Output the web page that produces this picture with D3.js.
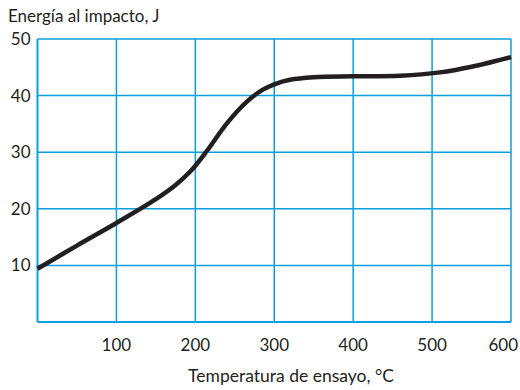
<!DOCTYPE html>
<html>
<head>
<meta charset="utf-8">
<script src="https://cdn.jsdelivr.net/npm/d3@7"></script>
<style>
  body { margin: 0; background: #fff; }
  svg text { font-family: Lato, "Open Sans", sans-serif; fill: #231f20; }
</style>
</head>
<body>
<div id="chart"></div>
<script>
// datos
const temps = [0, 50, 100, 150, 175, 195, 215, 240, 265, 285, 300, 320, 350, 400, 460, 510, 550, 600];
const energy = [9.4, 13.5, 17.5, 21.7, 24.2, 26.8, 30.3, 35.1, 38.9, 41.0, 42.0, 42.8, 43.25, 43.4, 43.5, 44.1, 45.1, 46.8];
const xTicks = [100, 200, 300, 400, 500, 600];
const yTicks = [10, 20, 30, 40, 50];

const W = 520, H = 390;
const margin = { top: 39, right: 9, bottom: 68, left: 37.5 };
const width = W - margin.left - margin.right;
const height = H - margin.top - margin.bottom;
const gridColor = "#0aa0e0";

const svg = d3.select("#chart").append("svg")
  .attr("width", W).attr("height", H);

const g = svg.append("g").attr("transform", `translate(${margin.left},${margin.top})`);

const x = d3.scaleLinear().domain([0, 600]).range([0, width]);
const y = d3.scaleLinear().domain([0, 50]).range([height, 0]);

// rejilla
g.selectAll(".vline").data(xTicks).join("line")
  .attr("x1", d => x(d)).attr("x2", d => x(d))
  .attr("y1", 0).attr("y2", height)
  .attr("stroke", gridColor).attr("stroke-width", 1.5);

g.selectAll(".hline").data(yTicks).join("line")
  .attr("x1", 0).attr("x2", width)
  .attr("y1", d => y(d)).attr("y2", d => y(d))
  .attr("stroke", gridColor).attr("stroke-width", 1.5);

g.append("line").attr("x1", 0).attr("x2", 0).attr("y1", 0).attr("y2", height)
  .attr("stroke", gridColor).attr("stroke-width", 2);
g.append("line").attr("x1", 0).attr("x2", width).attr("y1", height).attr("y2", height)
  .attr("stroke", gridColor).attr("stroke-width", 2);

// etiquetas (la última se ajusta al borde)
const last = xTicks[xTicks.length - 1];
g.selectAll(".xl").data(xTicks).join("text")
  .attr("x", d => d === last ? W - margin.left - 2 : x(d))
  .attr("y", height + 29)
  .attr("text-anchor", d => d === last ? "end" : "middle")
  .attr("font-size", 17)
  .text(d => d);

g.selectAll(".yl").data(yTicks).join("text")
  .attr("x", -7).attr("y", d => y(d) + 6)
  .attr("text-anchor", "end").attr("font-size", 17)
  .text(d => d);

svg.append("text").attr("x", 8).attr("y", 22).attr("font-size", 17)
  .text("Energía al impacto, J");

svg.append("text").attr("x", 291).attr("y", 382).attr("text-anchor", "middle")
  .attr("font-size", 17.5).text("Temperatura de ensayo, °C");

// curva
const line = d3.line()
  .x((d, i) => x(temps[i]))
  .y(d => y(d))
  .curve(d3.curveCatmullRom.alpha(0.5));

g.append("path").datum(energy)
  .attr("fill", "none").attr("stroke", "#231f20")
  .attr("stroke-width", 4.5).attr("stroke-linecap", "butt")
  .attr("d", line);
</script>
</body>
</html>
